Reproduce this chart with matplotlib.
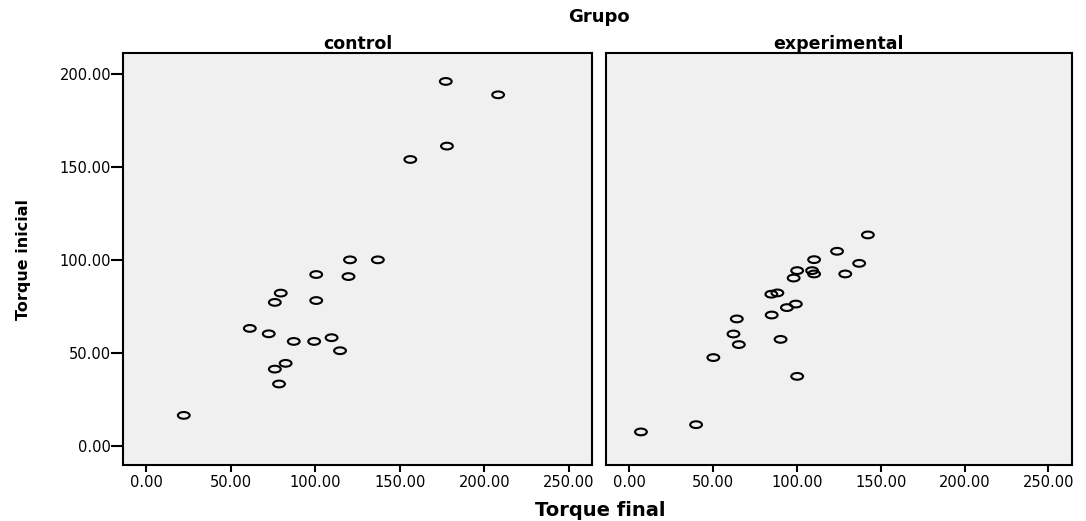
"""
Torque inicial vs torque final, split by Grupo (control / experimental).
"""

import matplotlib

matplotlib.use("Agg")

import matplotlib.pyplot as plt
from matplotlib.markers import MarkerStyle
from matplotlib.path import Path
from matplotlib.transforms import Affine2D


# control group
CONTROL_FINAL = [177.2, 208.2, 177.9, 156.2, 120.5, 137.0, 100.5, 119.6, 79.5, 76.0, 100.5,
                 61.2, 72.4, 87.2, 99.3, 109.6, 114.6, 82.4, 76.0, 78.5, 22.1]
CONTROL_INICIAL = [196.0, 188.8, 161.2, 154.0, 100.0, 100.0, 92.1, 91.0, 82.1, 77.1, 78.1,
                   63.1, 60.2, 56.1, 56.1, 58.1, 51.1, 44.3, 41.2, 33.2, 16.3]

# experimental group
EXPER_FINAL = [142.3, 123.9, 110.2, 137.1, 100.1, 109.0, 110.2, 128.8, 98.0, 84.7, 88.3,
               99.3, 94.0, 84.9, 64.1, 62.1, 65.3, 90.2, 50.1, 100.1, 39.8, 6.9]
EXPER_INICIAL = [113.4, 104.6, 100.1, 98.1, 94.2, 94.2, 92.4, 92.4, 90.2, 81.5, 82.2,
                 76.2, 74.3, 70.3, 68.2, 60.1, 54.4, 57.2, 47.4, 37.3, 11.3, 7.4]

PANELS = ["control", "experimental"]
X_TICKS = [0, 50, 100, 150, 200, 250]
Y_TICKS = [0, 50, 100, 150, 200]

BG = "#F0F0F0"
W, H = 1086, 521


def ellipse_marker() -> MarkerStyle:
    # SPSS output was stretched sideways, so the circles look like flat ellipses
    circ = Path.unit_circle()
    verts = Affine2D().scale(1.75, 1.0).transform(circ.vertices)
    return MarkerStyle(Path(verts, circ.codes))


def style_axes(ax: plt.Axes, show_y: bool) -> None:
    ax.set_facecolor(BG)
    ax.set_xlim(-14, 264)
    ax.set_ylim(-10.4, 211.3)
    ax.set_xticks(X_TICKS)
    ax.set_xticklabels([f"{v:.2f}" for v in X_TICKS])
    ax.set_yticks(Y_TICKS)
    ax.set_yticklabels([f"{v:.2f}" for v in Y_TICKS] if show_y else [])
    ax.tick_params(axis="x", direction="out", length=5, width=1.5, pad=2.5, labelsize=10.5)
    ax.tick_params(axis="y", direction="out", length=8.4 if show_y else 0, width=1.5,
                   pad=0, labelsize=10.5, left=show_y)
    for sp in ax.spines.values():
        sp.set_linewidth(1.5)
        sp.set_color("black")


def main() -> None:
    plt.rcParams["font.family"] = "DejaVu Sans"

    fig = plt.figure(figsize=(W / 100, H / 100), dpi=100, facecolor="white")
    bottom = 1 - 465 / H
    height = (465 - 53) / H
    ax_l = fig.add_axes([122.8 / W, bottom, 469.6 / W, height])
    ax_r = fig.add_axes([605.9 / W, bottom, 466.0 / W, height])

    mk = ellipse_marker()
    data = [(CONTROL_FINAL, CONTROL_INICIAL), (EXPER_FINAL, EXPER_INICIAL)]
    for ax, name, (xs, ys), show_y in zip([ax_l, ax_r], PANELS, data, [True, False]):
        style_axes(ax, show_y)
        ax.scatter(xs, ys, s=72, marker=mk, facecolors="none", edgecolors="black",
                   linewidths=1.5, zorder=3)
        ax.set_title(name, fontsize=12.5, fontweight="bold", pad=2)

    fig.text(599 / W, 1 - 21.7 / H, "Grupo", ha="center", va="baseline",
             fontsize=13, fontweight="bold")
    fig.text(600 / W, 1 - 516.5 / H, "Torque final", ha="center", va="baseline",
             fontsize=14, fontweight="bold")
    fig.text(24 / W, 1 - 260 / H, "Torque inicial", ha="center", va="center",
             rotation=90, fontsize=11.5, fontweight="bold")

    fig.savefig("out.png", dpi=100, facecolor="white")
    plt.close(fig)


if __name__ == "__main__":
    main()
